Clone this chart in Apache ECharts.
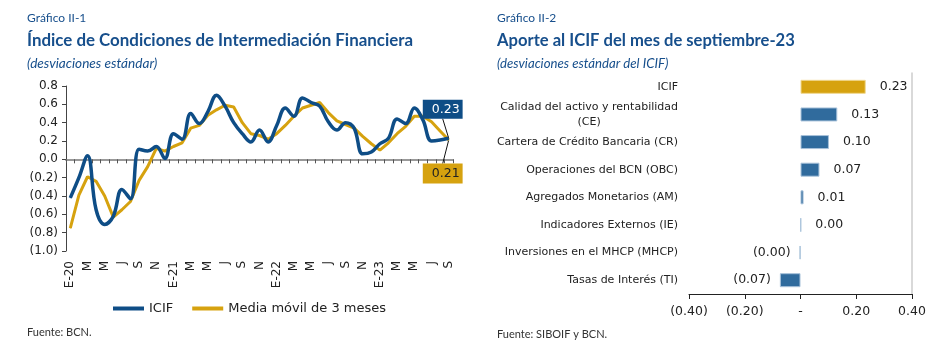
<!DOCTYPE html>
<html><head><meta charset="utf-8">
<script src="https://cdn.jsdelivr.net/npm/echarts@6/dist/echarts.min.js"></script>
<style>html,body{margin:0;padding:0;background:#fff}#c{width:951px;height:363px}</style>
</head><body><div id="c"></div>
<script>
// ---- Data: Gráfico II-1 ----
const months = ['E-20','F','M','A','M','J','J','A','S','O','N','D',
  'E-21','F','M','A','M','J','J','A','S','O','N','D',
  'E-22','F','M','A','M','J','J','A','S','O','N','D',
  'E-23','F','M','A','M','J','J','A','S'];
const icif = [-0.42,-0.20,0.04,-0.55,-0.71,-0.62,-0.33,-0.43,0.11,0.09,0.14,0.01,
  0.28,0.22,0.50,0.39,0.52,0.70,0.58,0.40,0.28,0.19,0.32,0.19,
  0.37,0.56,0.47,0.67,0.62,0.58,0.41,0.32,0.40,0.34,0.06,0.08,
  0.17,0.23,0.44,0.39,0.56,0.43,0.20,0.21,0.23];
const mediaMovil = [-0.75,-0.39,-0.19,-0.24,-0.40,-0.63,-0.55,-0.46,-0.23,-0.08,0.12,0.09,
  0.14,0.18,0.34,0.37,0.48,0.54,0.59,0.57,0.40,0.28,0.26,0.22,
  0.28,0.37,0.47,0.56,0.59,0.62,0.51,0.42,0.38,0.34,0.25,0.17,
  0.10,0.18,0.28,0.36,0.47,0.47,0.41,0.31,0.21];
const seriesNames = ['ICIF','Media móvil de 3 meses'];

// ---- Data: Gráfico II-2 ----
const componentes = ['ICIF','Calidad del activo y rentabilidad\n(CE)','Cartera de Crédito Bancaria (CR)',
  'Operaciones del BCN (OBC)','Agregados Monetarios (AM)','Indicadores Externos (IE)',
  'Inversiones en el MHCP (MHCP)','Tasas de Interés (TI)'];
const aportes = [0.234,0.132,0.102,0.068,0.011,0.002,-0.003,-0.074];

const BLUE = '#0E4D86', GOLD = '#D6A20F', BAR = '#306B9D', TITLE = '#174F8C';
const F = 'DejaVu Sans';
const fmt1 = v => v < 0 ? '(' + Math.abs(v).toFixed(1) + ')' : Math.abs(v).toFixed(1);
const fmt2 = v => v < 0 ? '(' + Math.abs(v).toFixed(2) + ')' : Math.abs(v).toFixed(2);

const last = icif.length - 1;
const icifData = icif.map((v, i) => i === last ? {value: v, label: {show: true}} : v);
const mmData = mediaMovil.map((v, i) => i === last ? {value: v, label: {show: true}} : v);

const chart = echarts.init(document.getElementById('c'), null, {renderer: 'canvas'});
const ttl = (text, left, top, size, weight, style, color) => ({text, left, top, padding: 0,
  textStyle: {fontFamily: 'Lato', fontSize: size, fontWeight: weight, fontStyle: style, color}});

chart.setOption({
  animation: false,
  title: [
    ttl('Gráfico II-1', 27, 12, 12, 'normal', 'normal', TITLE),
    ttl('Índice de Condiciones de Intermediación Financiera', 27, 32, 16.9, 'bold', 'normal', TITLE),
    ttl('(desviaciones estándar)', 27, 57, 13.6, 'normal', 'italic', TITLE),
    ttl('Fuente: BCN.', 27, 327, 11, 'normal', 'normal', '#333'),
    ttl('Gráfico II-2', 497, 12, 12, 'normal', 'normal', TITLE),
    ttl('Aporte al ICIF del mes de septiembre-23', 497, 32, 16.6, 'bold', 'normal', TITLE),
    ttl('(desviaciones estándar del ICIF)', 497, 57, 13.2, 'normal', 'italic', TITLE),
    ttl('Fuente: SIBOIF y BCN.', 497, 329, 11, 'normal', 'normal', '#333')
  ],
  legend: {
    data: seriesNames, left: 113, top: 302, padding: 0, icon: 'rect', itemWidth: 31, itemHeight: 4, itemGap: 19,
    textStyle: {fontFamily: F, fontSize: 13, color: '#222'}
  },
  grid: [
    {left: 66, top: 86, width: 387, height: 165},
    {left: 689, top: 73, width: 223, height: 221}
  ],
  xAxis: [
    {gridIndex: 0, type: 'category', data: months, boundaryGap: true,
      axisLine: {onZero: true, lineStyle: {color: '#999', width: 2}},
      axisTick: {show: true, interval: 0, length: 4, lineStyle: {color: '#555'}},
      axisLabel: {show: false}, splitLine: {show: false}},
    {gridIndex: 0, type: 'category', data: months, boundaryGap: true, position: 'bottom',
      axisLine: {show: false, onZero: false}, axisTick: {show: false},
      axisLabel: {interval: 1, rotate: 90, margin: 10, fontFamily: F, fontSize: 12, color: '#222'}},
    {gridIndex: 1, type: 'value', min: -0.4, max: 0.4, interval: 0.2, position: 'bottom',
      axisLine: {show: true, lineStyle: {color: '#222'}},
      axisTick: {show: true, length: 5, lineStyle: {color: '#222'}},
      splitLine: {show: false},
      axisLabel: {margin: 11, fontFamily: F, fontSize: 12.5, color: '#222',
        formatter: v => Math.abs(v) < 1e-9 ? '-' : fmt2(v)}}
  ],
  yAxis: [
    {gridIndex: 0, type: 'value', min: -1.0, max: 0.8, interval: 0.2,
      axisLine: {show: true, lineStyle: {color: '#444'}},
      axisTick: {show: true, length: 4, lineStyle: {color: '#444'}},
      splitLine: {show: false},
      axisLabel: {margin: 8, fontFamily: F, fontSize: 12, color: '#222', formatter: v => fmt1(v)}},
    {gridIndex: 1, type: 'category', data: componentes, inverse: true,
      axisLine: {show: false}, axisTick: {show: false},
      axisLabel: {margin: 11, fontFamily: F, fontSize: 11, color: '#222', lineHeight: 15,
        formatter: v => {
          const p = v.split('\n');
          return p.length > 1 ? '{a|' + p[0] + '}\n{b|' + p[1] + '}' : v;
        },
        rich: {a: {fontFamily: F, fontSize: 11, color: '#222', lineHeight: 15},
               b: {fontFamily: F, fontSize: 11, color: '#222', lineHeight: 15, align: 'center'}}}},
    {gridIndex: 1, type: 'category', data: componentes, inverse: true,
      axisLine: {show: true, onZero: true, lineStyle: {color: '#ccc', width: 1.5}},
      axisTick: {show: false}, axisLabel: {show: false}}
  ],
  series: [
    {name: seriesNames[0], type: 'line', xAxisIndex: 0, yAxisIndex: 0, data: icifData,
      smooth: 0.4, symbol: 'circle', symbolSize: 1, showSymbol: true, showAllSymbol: true, z: 3,
      lineStyle: {color: BLUE, width: 3.5}, itemStyle: {color: BLUE},
      label: {show: false, position: 'top', formatter: p => fmt2(p.value),
        backgroundColor: BLUE, color: '#fff', fontFamily: F, fontSize: 12.5,
        padding: [3, 3, 3, 9]},
      labelLayout: {dx: -6, dy: -14},
      labelLine: {show: true, lineStyle: {color: '#111', width: 1}}},
    {name: seriesNames[1], type: 'line', xAxisIndex: 0, yAxisIndex: 0, data: mmData,
      symbol: 'circle', symbolSize: 1, showSymbol: true, showAllSymbol: true, z: 2,
      lineStyle: {color: GOLD, width: 3}, itemStyle: {color: GOLD},
      label: {show: false, position: 'bottom', formatter: p => fmt2(p.value),
        backgroundColor: GOLD, color: '#222', fontFamily: F, fontSize: 12.5,
        padding: [4, 3, 3, 9]},
      labelLayout: {dx: -6, dy: 18},
      labelLine: {show: true, lineStyle: {color: '#111', width: 1}}},
    {type: 'bar', xAxisIndex: 2, yAxisIndex: 1, barWidth: 14,
      data: aportes.map((v, i) => ({value: v,
        itemStyle: i === 0 ? {color: GOLD, borderColor: '#f0d890'} : {color: BAR, borderColor: '#a8c2da'},
        label: {position: v < 0 ? 'left' : 'right', distance: v < 0 ? 9 : 14}})),
      itemStyle: {borderWidth: 1},
      label: {show: true, fontFamily: F, fontSize: 12.5, color: '#222', formatter: p => fmt2(p.value)}}
  ]
});
</script></body></html>
